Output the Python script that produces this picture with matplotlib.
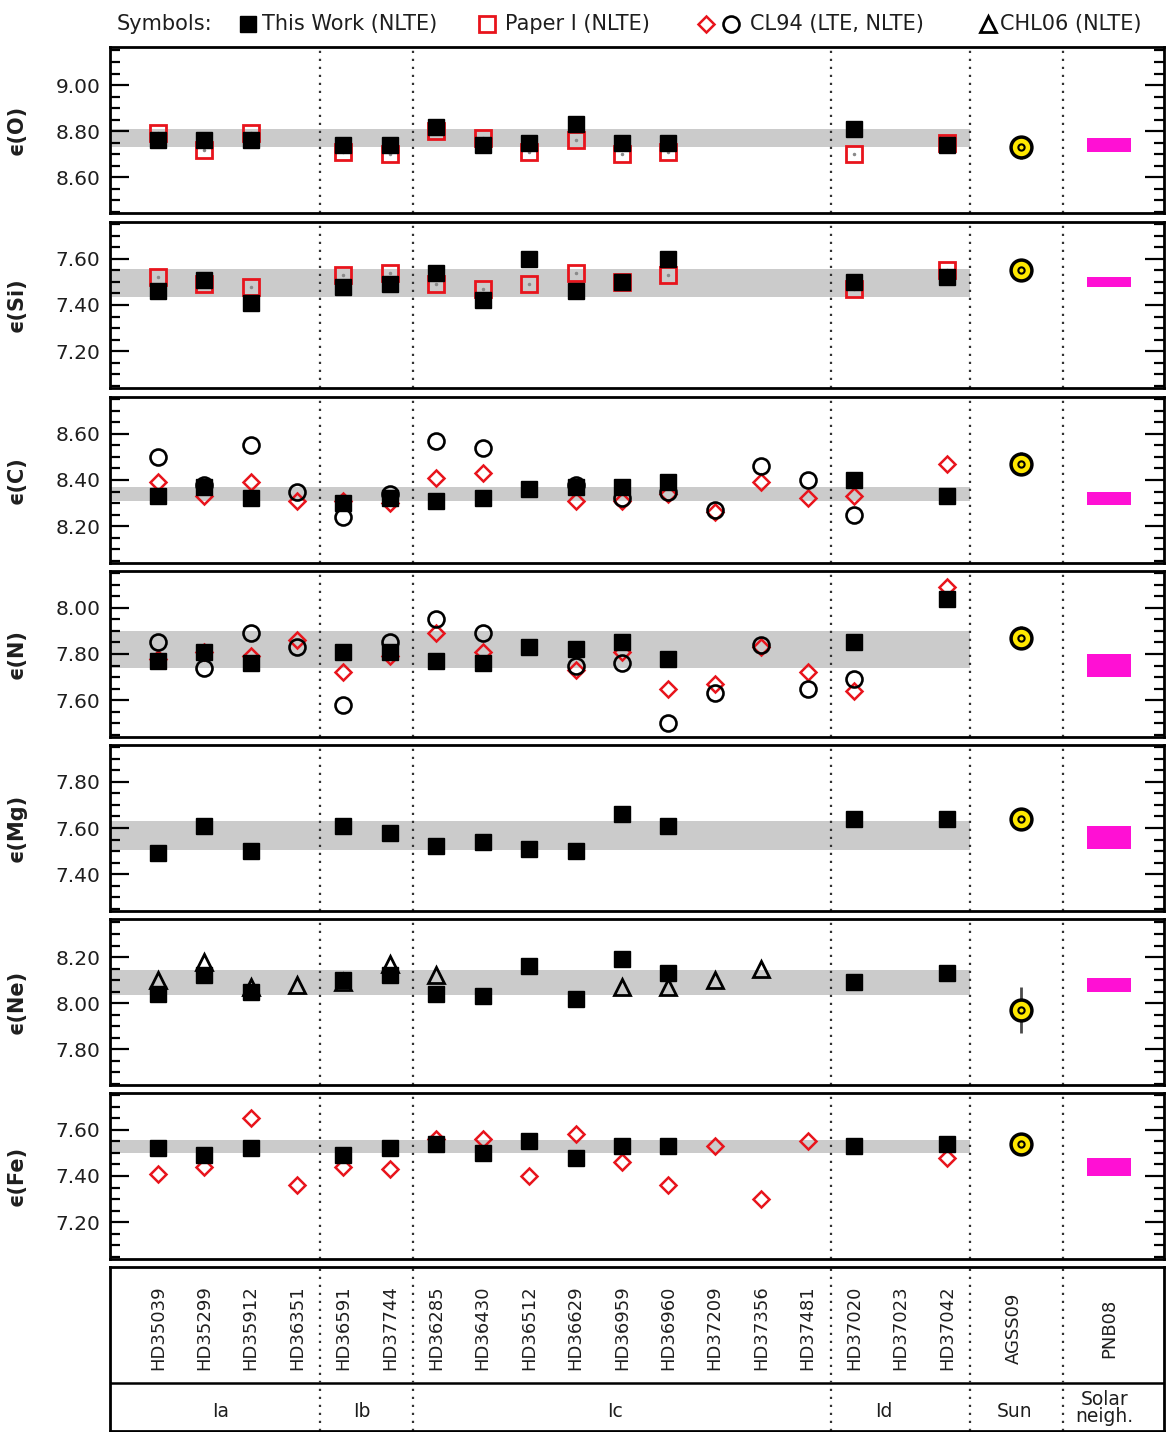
"""
Abundance comparison for the Orion OB1 B-type stars, one panel per element,
with the solar (AGSS09) and solar-neighbourhood (PNB08) references on the right.
"""

import numpy as np
import matplotlib.pyplot as plt
from matplotlib.lines import Line2D
from matplotlib.ticker import MultipleLocator, FormatStrFormatter

nan = np.nan

# ---------------------------------------------------------------------------
# data
# ---------------------------------------------------------------------------

STARS = ["HD35039", "HD35299", "HD35912", "HD36351", "HD36591", "HD37744",
         "HD36285", "HD36430", "HD36512", "HD36629", "HD36959", "HD36960",
         "HD37209", "HD37356", "HD37481", "HD37020", "HD37023", "HD37042"]

REF_LABELS = ["AGSS09", "PNB08"]
GROUPS = ["Ia", "Ib", "Ic", "Id", "Sun", "Solar\nneigh."]

ELEMENTS = ["O", "Si", "C", "N", "Mg", "Ne", "Fe"]

# this work (NLTE)
O_THIS  = [8.76, 8.76, 8.76, nan, 8.74, 8.74, 8.82, 8.74, 8.75, 8.83, 8.75, 8.75, nan, nan, nan, 8.81, nan, 8.74]
SI_THIS = [7.46, 7.51, 7.41, nan, 7.48, 7.49, 7.54, 7.42, 7.60, 7.46, 7.50, 7.60, nan, nan, nan, 7.50, nan, 7.52]
C_THIS  = [8.33, 8.37, 8.32, nan, 8.30, 8.32, 8.31, 8.32, 8.36, 8.37, 8.37, 8.39, nan, nan, nan, 8.40, nan, 8.33]
N_THIS  = [7.77, 7.81, 7.76, nan, 7.81, 7.81, 7.77, 7.76, 7.83, 7.82, 7.85, 7.78, nan, nan, nan, 7.85, nan, 8.04]
MG_THIS = [7.49, 7.61, 7.50, nan, 7.61, 7.58, 7.52, 7.54, 7.51, 7.50, 7.66, 7.61, nan, nan, nan, 7.64, nan, 7.64]
NE_THIS = [8.04, 8.12, 8.05, nan, 8.10, 8.12, 8.04, 8.03, 8.16, 8.02, 8.19, 8.13, nan, nan, nan, 8.09, nan, 8.13]
FE_THIS = [7.52, 7.49, 7.52, nan, 7.49, 7.52, 7.54, 7.50, 7.55, 7.48, 7.53, 7.53, nan, nan, nan, 7.53, nan, 7.54]

# Paper I (NLTE)
O_PAPER1  = [8.79, 8.72, 8.79, nan, 8.71, 8.70, 8.80, 8.77, 8.71, 8.76, 8.70, 8.71, nan, nan, nan, 8.70, nan, 8.75]
SI_PAPER1 = [7.52, 7.49, 7.48, nan, 7.53, 7.54, 7.49, 7.47, 7.49, 7.54, 7.50, 7.53, nan, nan, nan, 7.47, nan, 7.55]

# CL94 (LTE diamonds, NLTE circles)
C_CL94_LTE  = [8.39, 8.33, 8.39, 8.31, 8.31, 8.30, 8.41, 8.43, nan, 8.31, 8.31, 8.34, 8.26, 8.39, 8.32, 8.33, nan, 8.47]
C_CL94_NLTE = [8.50, 8.38, 8.55, 8.35, 8.24, 8.34, 8.57, 8.54, nan, 8.38, 8.32, 8.35, 8.27, 8.46, 8.40, 8.25, nan, nan]
N_CL94_LTE  = [7.78, 7.81, 7.79, 7.86, 7.72, 7.79, 7.89, 7.81, nan, 7.73, 7.81, 7.65, 7.67, 7.83, 7.72, 7.64, nan, 8.09]
N_CL94_NLTE = [7.85, 7.74, 7.89, 7.83, 7.58, 7.85, 7.95, 7.89, nan, 7.75, 7.76, 7.50, 7.63, 7.84, 7.65, 7.69, nan, nan]
FE_CL94_LTE = [7.41, 7.44, 7.65, 7.36, 7.44, 7.43, 7.56, 7.56, 7.40, 7.58, 7.46, 7.36, 7.53, 7.30, 7.55, nan, nan, 7.48]

# CHL06 (NLTE)
NE_CHL06 = [8.10, 8.18, 8.07, 8.08, 8.09, 8.17, 8.12, nan, nan, nan, 8.07, 8.07, 8.10, 8.15, nan, nan, nan, nan]

# references, in ELEMENTS order
SUN_ABUND = [8.73, 7.55, 8.47, 7.87, 7.64, 7.97, 7.54]
SUN_ERR   = [0.05, 0.03, 0.05, 0.05, 0.04, 0.10, 0.04]
NEIGH_ABUND = [8.74, 7.50, 8.32, 7.75, 7.56, 8.08, 7.44]
NEIGH_ERR   = [0.03, 0.02, 0.03, 0.05, 0.05, 0.03, 0.04]

# grey band: spread of this work
BAND_LO = [8.73, 7.435, 8.31, 7.74, 7.505, 8.035, 7.50]
BAND_HI = [8.81, 7.555, 8.37, 7.90, 7.630, 8.145, 7.555]

Y_LO = [8.445, 7.04, 8.04, 7.44, 7.24, 7.645, 7.04]
Y_HI = [9.165, 7.76, 8.76, 8.16, 7.96, 8.365, 7.76]

# ---------------------------------------------------------------------------
# layout / style
# ---------------------------------------------------------------------------

FIG_W, FIG_H = 1169, 1432
AX_LEFT, AX_RIGHT = 110, 1164
PANEL_TOPS = [47, 222, 397, 571, 745, 919, 1093]
PANEL_H = 166
LABEL_TOP, LABEL_BOT = 1267, 1431

STAR_X = np.arange(len(STARS))
SUN_X = 18.6
NEIGH_X = 20.5
DIVIDERS = [3.5, 5.5, 14.5, 17.5, 19.5]
GROUP_X = [1.35, 4.4, 9.85, 15.65, 18.45, 20.4]
XLIM = (-1.03, 21.68)

RED = "#e8141c"
MAGENTA = "#ff10d4"
BAND = "#cbcbcb"
TXT = "#1e1e1e"

plt.rcParams["font.family"] = "DejaVu Sans"

this_kw  = dict(ls="none", marker="s", ms=11, mfc="k", mec="k", zorder=6)
paper_kw = dict(ls="none", marker="s", ms=11.5, mfc="none", mec=RED, mew=2.0, zorder=4)
lte_kw   = dict(ls="none", marker="D", ms=8, mfc="none", mec=RED, mew=1.8, zorder=4)
nlte_kw  = dict(ls="none", marker="o", ms=11.5, mfc="none", mec="k", mew=1.9, zorder=7)
chl_kw   = dict(ls="none", marker="^", ms=12, mfc="none", mec="k", mew=2.0, zorder=5)


def px_rect(left, top, right, bottom):
    return [left / FIG_W, 1 - bottom / FIG_H, (right - left) / FIG_W, (bottom - top) / FIG_H]


def style_frame(ax):
    for sp in ax.spines.values():
        sp.set_linewidth(2.0)
        sp.set_color("k")
    ax.set_xlim(*XLIM)


fig = plt.figure(figsize=(FIG_W / 100, FIG_H / 100), dpi=100)

series = {
    "O":  [(O_PAPER1, paper_kw), (O_THIS, this_kw)],
    "Si": [(SI_PAPER1, paper_kw), (SI_THIS, this_kw)],
    "C":  [(C_CL94_LTE, lte_kw), (C_THIS, this_kw), (C_CL94_NLTE, nlte_kw)],
    "N":  [(N_CL94_LTE, lte_kw), (N_THIS, this_kw), (N_CL94_NLTE, nlte_kw)],
    "Mg": [(MG_THIS, this_kw)],
    "Ne": [(NE_CHL06, chl_kw), (NE_THIS, this_kw)],
    "Fe": [(FE_CL94_LTE, lte_kw), (FE_THIS, this_kw)],
}

for k, el in enumerate(ELEMENTS):
    top = PANEL_TOPS[k]
    ax = fig.add_axes(px_rect(AX_LEFT, top, AX_RIGHT, top + PANEL_H))
    style_frame(ax)
    ax.set_ylim(Y_LO[k], Y_HI[k])

    ax.fill_between([XLIM[0], DIVIDERS[3]], BAND_LO[k], BAND_HI[k],
                    color=BAND, lw=0, zorder=1)
    for xd in DIVIDERS:
        ax.axvline(xd, color="#333333", ls=(0, (1, 2.6)), lw=1.6, zorder=2)

    for vals, kw in series[el]:
        ax.plot(STAR_X, vals, **kw)
        if kw is paper_kw:
            ax.plot(STAR_X, vals, ls="none", marker=".", ms=3,
                    color="#8a8a8a", zorder=4.5)

    # Sun
    ax.errorbar([SUN_X], [SUN_ABUND[k]], yerr=[SUN_ERR[k]], fmt="none",
                ecolor="#4a4a4a", elinewidth=2, capsize=0, zorder=7)
    ax.plot([SUN_X], [SUN_ABUND[k]], ls="none", marker="o", ms=15,
            mfc="#ffe800", mec="k", mew=2.5, zorder=8)
    ax.plot([SUN_X], [SUN_ABUND[k]], ls="none", marker="o", ms=4.5,
            mfc="none", mec="k", mew=1.5, zorder=9)

    # solar neighbourhood
    ax.bar([NEIGH_X], [2 * NEIGH_ERR[k]], bottom=[NEIGH_ABUND[k] - NEIGH_ERR[k]],
           width=0.95, color=MAGENTA, lw=0, zorder=5)

    ax.yaxis.set_major_locator(MultipleLocator(0.2))
    ax.yaxis.set_minor_locator(MultipleLocator(0.05))
    ax.yaxis.set_major_formatter(FormatStrFormatter("%.2f"))
    ax.tick_params(axis="y", which="both", direction="in", left=True, right=True,
                   width=1.6, color="k", labelsize=14.5, labelcolor=TXT, pad=7)
    ax.tick_params(axis="y", which="major", length=14)
    ax.tick_params(axis="y", which="minor", length=7.5)
    ax.tick_params(axis="x", which="both", bottom=False, top=False,
                   labelbottom=False)

    ax.set_ylabel("\u03f5(" + el + ")", fontsize=15, fontweight="bold", color=TXT)
    ax.yaxis.set_label_coords(-0.079, 0.5)

# label box along the bottom
lab = fig.add_axes(px_rect(AX_LEFT, LABEL_TOP, AX_RIGHT, LABEL_BOT))
style_frame(lab)
lab.set_ylim(0, 1)
lab.set_xticks([])
lab.set_yticks([])
lab.axhline(0.293, color="k", lw=1.8)
for xd in DIVIDERS:
    lab.axvline(xd, color="#333333", ls=(0, (1, 2.6)), lw=1.6)

for x, name in zip(list(STAR_X) + [SUN_X - 0.15, NEIGH_X], STARS + REF_LABELS):
    lab.text(x, 0.628, name, rotation=90, ha="center", va="center",
             fontsize=13, color=TXT)
for x, g in zip(GROUP_X, GROUPS):
    lab.text(x, 0.14 if "\n" in g else 0.116, g, ha="center", va="center",
             fontsize=13.5, color=TXT, linespacing=0.85)

# symbol key across the top
ky = 1 - 24 / FIG_H


def key_marker(xpx, **kw):
    fig.add_artist(Line2D([xpx / FIG_W], [ky], transform=fig.transFigure, **kw))


def key_text(xpx, s):
    fig.text(xpx / FIG_W, ky, s, ha="left", va="center", fontsize=15, color=TXT)


key_text(117, "Symbols:")
key_marker(248, ls="none", marker="s", ms=11, mfc="k", mec="k")
key_text(262, "This Work (NLTE)")
key_marker(487, ls="none", marker="s", ms=11, mfc="none", mec=RED, mew=2.0)
key_text(505, "Paper I (NLTE)")
key_marker(706, ls="none", marker="D", ms=8, mfc="none", mec=RED, mew=1.8)
key_marker(731, ls="none", marker="o", ms=11.5, mfc="none", mec="k", mew=1.9)
key_text(750, "CL94 (LTE, NLTE)")
key_marker(988, ls="none", marker="^", ms=12, mfc="none", mec="k", mew=2.0)
key_text(1000, "CHL06 (NLTE)")

fig.savefig("out.png", dpi=100)
